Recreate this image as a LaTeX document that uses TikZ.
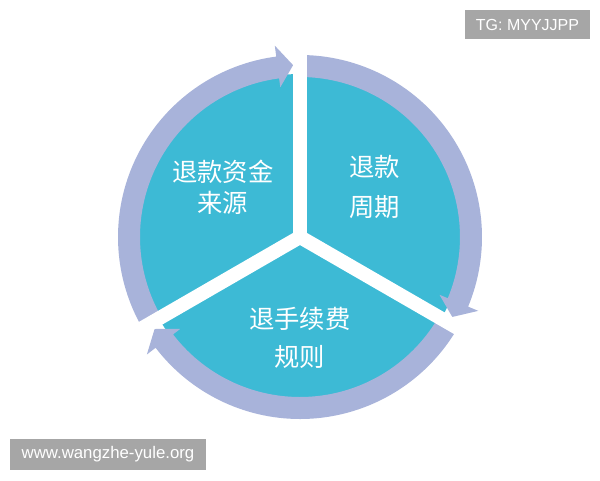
\documentclass[tikz,border=0pt]{standalone}
\usepackage{fontspec}
\newfontfamily\cjk{Noto Sans CJK SC}
\newfontfamily\wmfont{Liberation Sans}
\usepackage{tikz}
\usetikzlibrary{calc}

\definecolor{pieblue}{HTML}{3DBAD5}
\definecolor{ringblue}{HTML}{A8B3DA}
\definecolor{wmgray}{HTML}{A6A6A6}

\tikzset{
  piepart/.style={fill=pieblue},
  ringpart/.style={fill=ringblue},
  gapline/.style={white, line width=10.5pt},
  seglabel/.style={text=white, align=center, font=\cjk\fontsize{19}{23}\selectfont},
  wmbox/.style={fill=wmgray, draw=none},
  wmtext/.style={text=white, font=\wmfont\fontsize{12}{14}\selectfont}
}

\begin{document}
\begin{tikzpicture}[x=0.75pt, y=0.75pt]

\useasboundingbox (-300,-243) rectangle (300,237);

% disc
\fill [piepart] (0,0) circle (163);

% ring arrows, clockwise
\fill [ringpart] (210:182) arc[start angle=210, end angle=97.5, radius=182]
   -- (97.5:193) -- (92.3:172) -- (97.5:151) -- (97.5:160)
   arc[start angle=97.5, end angle=210, radius=160] -- cycle;
\fill [ringpart] (90:182) arc[start angle=90, end angle=-22.5, radius=182]
   -- (-22.5:193) -- (-27.7:172) -- (-22.5:151) -- (-22.5:160)
   arc[start angle=-22.5, end angle=90, radius=160] -- cycle;
\fill [ringpart] (-30:182) arc[start angle=-30, end angle=-142.5, radius=182]
   -- (-142.5:193) -- (-147.7:172) -- (-142.5:151) -- (-142.5:160)
   arc[start angle=-142.5, end angle=-30, radius=160] -- cycle;

% white gaps
\coordinate (mid) at (0,0);
\coordinate (gaptop) at (90:205);
\coordinate (gapright) at (-30:205);
\coordinate (gapleft) at (210:205);
\draw [gapline] (mid) -- (gaptop);
\draw [gapline] (mid) -- (gapright);
\draw [gapline] (mid) -- (gapleft);

% labels
\node (source) at (-77,50) [seglabel] {退款资金\\来源};
\node (period) at (75,50) [seglabel, font=\cjk\fontsize{19}{30}\selectfont] {退款\\周期};
\node (fee) at (0,-101) [seglabel, font=\cjk\fontsize{19}{28}\selectfont] {退手续费\\规则};

% watermarks
\fill [wmbox] (165,198) rectangle (290,227);
\node (tg) at (227.5,212.5) [wmtext] {TG: MYYJJPP};
\fill [wmbox] (-290,-233) rectangle (-94,-202);
\node (site) at (-192,-217.5) [wmtext, font=\wmfont\fontsize{12.6}{14}\selectfont] {www.wangzhe-yule.org};

\end{tikzpicture}
\end{document}
